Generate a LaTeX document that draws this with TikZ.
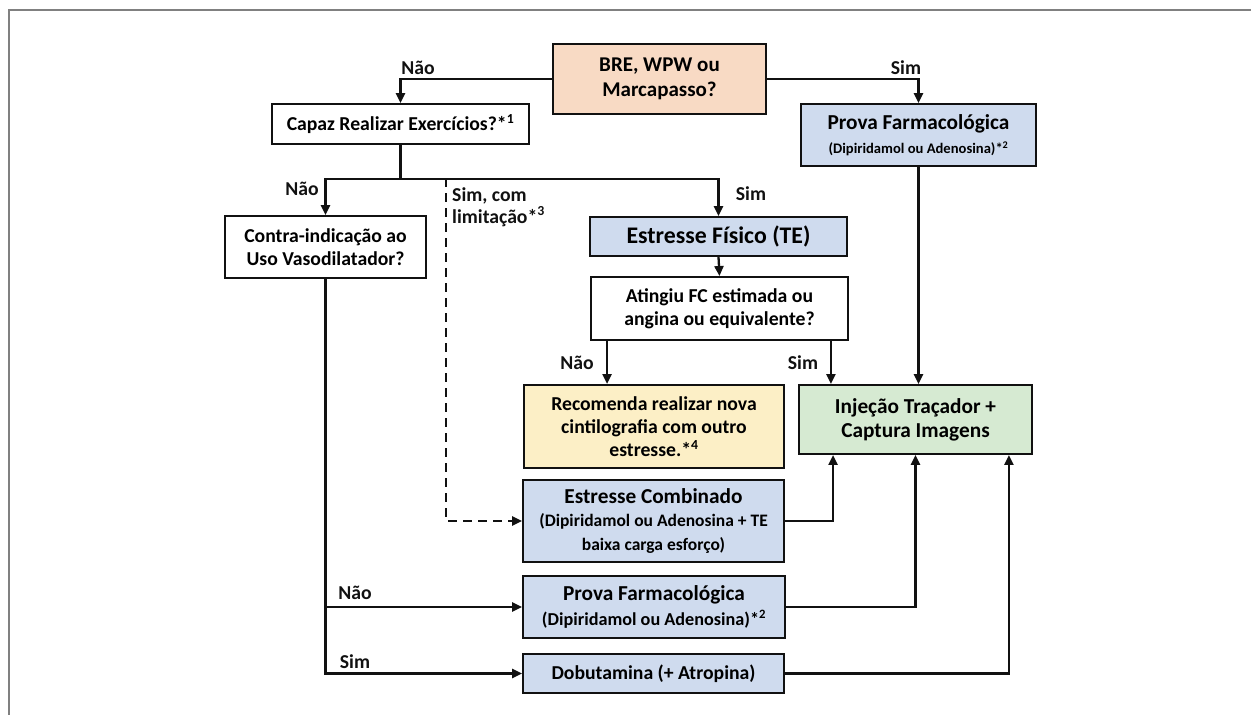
\documentclass[tikz,border=0pt]{standalone}
\usepackage{fontspec}
\setmainfont{Carlito}
\usetikzlibrary{arrows.meta,calc}
\definecolor{peach}{HTML}{F8DAC4}
\definecolor{bluebox}{HTML}{CFDBEE}
\definecolor{yelbox}{HTML}{FCEFC6}
\definecolor{grnbox}{HTML}{D6EAD2}
\definecolor{framegray}{HTML}{808080}
\definecolor{ink}{HTML}{111111}
\newcommand{\mainsz}{\fontsize{19.7}{23.3}\selectfont}
\begin{document}
\begin{tikzpicture}[x=1pt,y=-1pt,
  box/.style={draw=ink, line width=1.9pt, align=center, inner sep=0pt, font=\bfseries\mainsz},
  conn/.style={draw=ink, line width=2.3pt},
  arr/.style={conn, -{Triangle[length=10pt,width=9pt]}},
  lbl/.style={font=\bfseries\mainsz, inner sep=0pt, text=ink}]
\useasboundingbox (0,0) rectangle (1251,715);
\draw[framegray, line width=2pt] (9,716) -- (9,10) -- (1252,10);

% nodes
\node[box, fill=peach, minimum width=213pt, minimum height=70pt, font=\bfseries\fontsize{21}{25}\selectfont] (bre) at (659.5,79) {BRE, WPW ou\\Marcapasso?};
\node[box, fill=white, minimum width=257pt, minimum height=40pt] (capaz) at (400.5,124) {Capaz Realizar Exercícios?*\textsuperscript{1}};
\node[box, fill=bluebox, minimum width=235pt, minimum height=62pt] (prova1) at (918.5,135) {{\fontsize{21.3}{22}\selectfont Prova Farmacológica}\\[1pt]{\fontsize{14.6}{17}\selectfont (Dipiridamol ou Adenosina)*\textsuperscript{2}}};
\node[box, fill=white, minimum width=201pt, minimum height=62pt] (contra) at (325.5,247) {Contra-indicação ao\\Uso Vasodilatador?};
\node[box, fill=bluebox, minimum width=257pt, minimum height=39pt, font=\bfseries\fontsize{23.8}{26}\selectfont] (estfis) at (718.5,236.5) {Estresse Físico (TE)};
\node[box, fill=white, minimum width=257pt, minimum height=63pt] (ating) at (719.5,308.5) {Atingiu FC estimada ou\\angina ou equivalente?};
\node[box, fill=yelbox, minimum width=260pt, minimum height=83pt] (rec) at (654,426.5) {Recomenda realizar nova\\cintilografia com outro\\estresse.*\textsuperscript{4}};
\node[box, fill=grnbox, minimum width=233pt, minimum height=69pt, font=\bfseries\fontsize{21.3}{24}\selectfont] (inj) at (915.5,419.5) {Injeção Traçador +\\Captura Imagens};
\node[box, fill=bluebox, minimum width=261pt, minimum height=82pt] (comb) at (653.5,521) {{\fontsize{21.3}{23}\selectfont Estresse Combinado}\\{\fontsize{17.5}{22}\selectfont (Dipiridamol ou Adenosina + TE}\\{\fontsize{17.5}{22}\selectfont baixa carga esforço)}};
\node[box, fill=bluebox, minimum width=262pt, minimum height=62pt] (prova2) at (654,607) {{\fontsize{21.3}{22}\selectfont Prova Farmacológica}\\[1pt]{\fontsize{18.2}{20}\selectfont (Dipiridamol ou Adenosina)*\textsuperscript{2}}};
\node[box, fill=bluebox, minimum width=261pt, minimum height=39pt] (dobu) at (653.5,673.5) {Dobutamina (+ Atropina)};

% connectors
\draw[arr] (bre.west) -| (capaz.north);
\draw[arr] (bre.east) -| (prova1.north);
\draw[conn, line width=3pt] (capaz.south) -- ++(0,34) coordinate (split);
\draw[arr] (split) -| (contra.north);
\draw[arr] (split) -| (estfis.north);
\coordinate (dsh) at (446,178);
\draw[arr, dashed, dash pattern=on 9pt off 6pt] (dsh) |- (comb.west);
\draw[arr] (estfis.south) -- (ating.north);
\coordinate (aNo) at ([xshift=17pt]ating.south west);
\coordinate (aSim) at ([xshift=-18pt]ating.south east);
\draw[arr] (aNo) -- (aNo |- rec.north);
\draw[arr] (aSim) -- (aSim |- inj.north);
\draw[arr] (prova1.south) -- (prova1.south |- inj.north);
\draw[arr] (contra.south) |- (dobu.west);
\draw[arr] (contra.south |- prova2.west) -- (prova2.west);
\draw[arr] (comb.east) -| ([xshift=35pt]inj.south west);
\draw[arr] (prova2.east) -| (inj.south);
\draw[arr] (dobu.east) -| ([xshift=-24pt]inj.south east);

% labels
\node[lbl] (l1) at (418,68) {Não};
\node[lbl] (l2) at (906,68) {Sim};
\node[lbl] (l3) at (302,189) {Não};
\node[lbl, anchor=west, align=left, font=\bfseries\fontsize{19.7}{22}\selectfont] (l4) at (452,207) {Sim, com\\limitação*\textsuperscript{3}};
\node[lbl] (l5) at (751,194) {Sim};
\node[lbl] (l6) at (577,363) {Não};
\node[lbl] (l7) at (803,363) {Sim};
\node[lbl] (l8) at (355,593) {Não};
\node[lbl] (l9) at (355,662) {Sim};
\end{tikzpicture}
\end{document}
